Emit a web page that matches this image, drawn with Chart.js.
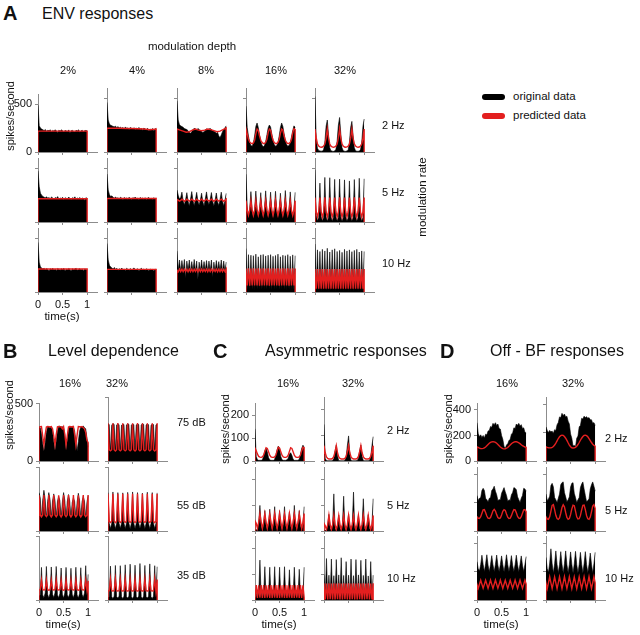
<!DOCTYPE html>
<html><head><meta charset="utf-8">
<script src="https://cdn.jsdelivr.net/npm/chart.js@4"></script>
<style>
body{margin:0;background:#fff;}
#root{position:relative;width:640px;height:635px;overflow:hidden;font-family:"Liberation Sans",Arial,sans-serif;color:#111;}
canvas{position:absolute;}
.t{position:absolute;white-space:nowrap;line-height:1;}
</style></head><body><div id="root"></div>
<script>
// ---------- DATA (values over 0..1 s, evenly spaced samples) ----------
// Panel A, 2 Hz row
const a02_2Hz_o=[490,275,250,240,232,225,235,215,228,222,232,210,226,218,233,220,205,228,216,232,221,210,226,220,214,231,200,222,226,215,210,227,220,232,206,221,226,214,222,226,220];
const a02_2Hz_p=[218,218];
const a04_2Hz_o=[465,300,262,250,245,240,236,242,228,238,225,232,222,230,218,235,220,226,212,230,222,216,228,208,224,218,230,212,220,205,224,215,210,222,200,216,208,220,198,214,222];
const a04_2Hz_p=[222,222,222,220,220,218,215,208,215];
const a08_2Hz_o=[480,300,255,245,238,232,220,215,210,200,185,175,190,210,222,215,208,220,212,200,195,182,190,205,218,210,215,220,212,200,195,188,175,185,150,135,160,190,215,225,245];
const a08_2Hz_p=[215,205,195,185,190,205,215,205,200,205,215,210,200,190,195,210,225];
const a16_2Hz_o=[430,230,150,90,60,55,85,150,240,272,230,160,100,65,50,60,95,160,225,253,235,170,110,70,55,60,90,150,230,272,240,170,110,70,55,60,85,140,200,245,230];
const a16_2Hz_p=[218,170,120,95,82,78,85,110,170,215,200,150,110,90,80,80,90,120,180,215,205,150,110,88,80,80,90,118,175,215,205,150,110,88,80,80,90,120,180,218,210];
const a32_2Hz_o=[520,120,35,15,10,8,10,20,90,240,300,160,40,12,8,6,10,25,100,250,324,170,40,12,8,6,10,22,90,230,287,150,40,12,8,6,10,20,90,240,309];
const a32_2Hz_p=[215,132,76,56,48,45,47,55,74,128,216,130,75,55,48,44,48,56,76,132,218,128,74,55,47,45,48,55,75,130,214,130,76,56,48,45,47,55,74,128,215];
// Panel A, 5 Hz row
const a02_5Hz_o=[480,330,270,250,240,232,228,236,222,230,218,235,224,216,230,222,238,215,226,220,232,212,228,222,218,234,220,210,228,222,236,214,225,218,230,212,226,220,205,228,222];
const a02_5Hz_p=[218,218];
const a04_5Hz_o=[450,300,255,238,245,230,224,234,220,228,216,232,222,212,230,220,226,214,232,220,210,228,222,234,216,224,212,230,220,226,214,228,208,224,230,216,222,210,228,218,225];
const a04_5Hz_p=[220,220];
const a08_5Hz_o=[300,250,215,230,280,200,160,210,275,195,150,215,285,200,155,210,278,195,160,205,270,190,150,215,282,200,165,210,276,195,150,205,272,190,155,210,280,200,150,200,268];
const a08_5Hz_p=[212,205,195,203,214,205,194,203,214,205,195,204,214,205,194,203,214,205,195,203,214,205,194,204,214,205,195,203,214,205,194,203,214,205,195,204,214,205,194,203,214];
const a16_5Hz_o=[448,140,55,120,285,110,45,115,290,115,48,120,275,110,45,118,292,112,46,116,280,108,44,120,288,112,46,118,270,110,45,115,295,112,48,118,282,110,45,115,278];
const a16_5Hz_p=[200,112,64,112,200,110,62,110,202,112,63,111,200,110,62,112,201,111,63,110,200,112,62,111,202,110,63,112,200,111,62,110,201,112,63,111,200,110,62,112,200];
const a32_5Hz_o=[490,60,12,40,365,50,12,40,418,50,10,40,415,48,12,40,400,50,12,42,402,48,10,40,395,50,12,38,385,48,12,40,398,50,10,40,410,48,12,40,405];
const a32_5Hz_p=[230,96,47,96,230,95,46,95,231,96,46,96,230,95,47,95,230,96,46,96,231,95,46,95,230,96,47,96,230,95,46,95,231,96,46,96,230,95,47,95,230];
// Panel A, 10 Hz row
const a02_10Hz_o=[465,280,235,225,215,222,208,220,212,200,218,210,222,205,215,200,220,212,205,218,210,222,200,214,208,220,212,196,218,208,215,222,204,212,218,206,214,200,216,210,205];
const a02_10Hz_p=[215,215];
const a04_10Hz_o=[455,300,250,235,226,215,230,212,222,205,218,210,225,208,216,200,222,212,205,220,208,215,226,206,212,218,200,214,222,208,215,204,218,212,200,216,208,212,196,214,210];
const a04_10Hz_p=[212,212];
const a08_10Hz_o=[385,200,300,190,295,195,305,130,290,200,300,185,285,195,305,190,290,120,280,195,300,190,285,200,295,185,290,195,300,140,280,190,295,200,285,195,300,185,290,190,280];
const a08_10Hz_p=[205,190,214,191,215,190,213,192,215,190,214,191,215,190,213,192,215,190,214,191,215,190,213,192,215,190,214,191,215,190,213,192,215,190,214,191,215,190,213,192,214];
const a16_10Hz_o=[407,25,350,28,345,25,340,22,355,28,330,25,348,26,352,24,338,28,345,25,350,22,335,26,342,28,355,24,330,25,345,26,340,22,350,28,335,25,348,24,340];
const a16_10Hz_p=[220,62,222,60,221,62,222,61,220,62,222,60,221,62,222,61,220,62,222,60,221,62,222,61,220,62,222,60,221,62,222,61,220,62,222,60,221,62,222,61,220];
const a32_10Hz_o=[450,12,395,10,380,12,400,10,385,12,410,10,375,12,395,10,405,12,380,10,390,12,372,10,400,12,385,10,395,12,378,10,390,12,400,10,375,12,385,10,380];
const a32_10Hz_p=[216,31,215,32,216,30,216,31,215,32,216,30,216,31,215,32,216,30,216,31,215,32,216,30,216,31,215,32,216,30,216,31,215,32,216,30,216,31,215,32,216];
// Panel B (level dependence)
const b16_75_o=[300,290,240,150,90,160,250,295,300,290,300,260,170,95,170,260,300,305,295,300,285,230,100,180,270,300,290,305,295,260,170,90,170,260,300,295,305,290,280,200,120];
const b16_75_p=[295,298,300,220,140,230,296,300,298,296,300,280,220,140,230,298,300,297,298,280,300,230,140,220,296,300,298,296,300,230,140,225,300,298,296,300,290,280,250,180,160];
const b32_75_o=[290,285,75,280,292,286,78,282,290,284,75,280,288,285,76,282,291,286,75,280,290,284,78,282,289,285,75,280,292,286,76,282,290,284,75,280,288,285,78,282,290];
const b32_75_p=[295,88,80,88,295,88,78,88,296,88,80,88,295,88,79,88,294,88,80,88,295,88,78,88,296,88,80,88,295,88,79,88,294,88,80,88,295,88,78,88,295];
const b16_55_o=[300,260,100,240,318,250,95,230,300,245,98,235,290,240,100,230,270,238,95,225,300,240,96,230,285,235,100,222,260,230,97,225,295,238,95,228,270,232,98,225,280];
const b16_55_p=[280,125,110,125,280,125,112,125,281,125,110,125,280,125,111,125,279,125,110,125,280,125,112,125,281,125,110,125,280,125,111,125,279,125,110,125,280,125,112,125,280];
const b32_55_o=[300,60,20,60,305,60,18,60,300,60,22,60,298,60,20,60,302,60,18,60,305,60,20,60,300,60,22,60,296,60,20,60,303,60,18,60,300,60,20,60,298];
const b32_55_p=[290,76,66,76,290,76,65,76,291,76,66,76,290,76,67,76,290,76,66,76,291,76,65,76,290,76,66,76,290,76,67,76,290,76,66,76,291,76,65,76,290];
const b16_35_o=[30,40,255,40,18,55,262,45,15,50,258,45,20,55,262,40,18,50,250,45,15,55,255,40,20,50,248,45,18,55,256,40,15,50,252,45,20,55,268,40,200];
const b16_35_p=[78,80,156,80,78,80,156,80,77,80,155,80,78,80,156,80,78,80,156,80,77,80,155,80,78,80,156,80,78,80,156,80,77,80,155,80,78,80,156,80,150];
const b32_35_o=[15,25,265,25,12,30,270,25,15,30,268,25,12,30,275,25,15,30,280,25,12,30,272,25,15,30,285,25,12,30,270,25,15,30,282,25,12,30,268,25,260];
const b32_35_p=[70,72,164,72,70,72,164,72,70,72,163,72,70,72,164,72,70,72,164,72,70,72,163,72,70,72,164,72,70,72,164,72,70,72,163,72,70,72,164,72,160];
// Panel C (asymmetric responses)
const c16_2Hz_o=[140,20,5,3,3,3,5,20,45,56,40,15,5,3,3,3,8,25,50,65,55,20,5,3,3,3,5,12,30,36,25,8,3,3,3,3,8,30,55,69,60];
const c16_2Hz_p=[56,45,30,20,17,16,18,25,42,58,55,40,25,18,16,16,18,26,45,60,56,40,25,18,16,16,18,25,42,58,55,40,25,18,16,16,18,26,45,60,58];
const c32_2Hz_o=[143,10,2,1,1,1,1,2,10,40,62,20,2,1,1,1,1,3,15,60,98,25,2,1,1,1,1,2,10,40,62,18,2,1,1,1,1,3,15,60,95];
const c32_2Hz_p=[60,32,16,10,8,8,8,10,18,36,60,32,16,10,8,8,8,10,18,36,61,32,16,10,8,8,8,10,18,36,60,32,16,10,8,8,8,10,18,36,60];
const c16_5Hz_o=[5,3,10,30,100,20,5,25,80,20,5,25,85,20,5,25,95,20,5,25,80,20,5,25,95,20,5,25,75,20,5,25,100,20,5,25,80,20,5,25,95];
const c16_5Hz_p=[40,30,10,35,68,35,9,35,68,35,10,36,67,35,9,35,68,36,10,35,68,35,9,35,67,35,10,36,68,35,9,35,68,35,10,35,67,36,9,35,68];
const c32_5Hz_o=[3,2,5,20,65,10,3,25,145,10,3,20,62,10,3,25,136,10,3,20,66,10,3,25,152,10,3,20,60,10,3,25,126,10,3,20,64,10,3,25,126];
const c32_5Hz_p=[30,20,5,25,61,25,5,25,61,25,5,25,60,25,5,25,61,25,5,25,61,25,5,25,60,25,5,25,61,25,5,25,61,25,5,25,60,25,5,25,61];
const c16_10Hz_o=[5,15,40,15,156,15,40,15,130,15,38,15,128,15,40,15,130,15,38,15,128,15,40,15,130,15,38,15,118,15,40,15,128,15,38,15,120,15,40,15,128];
const c16_10Hz_p=[8,58,8,57,9,58,8,58,8,57,9,58,8,58,8,57,9,58,8,58,8,57,9,58,8,58,8,57,9,58,8,58,8,57,9,58,8,58,8,57,9];
const c32_10Hz_o=[100,10,162,10,97,10,160,10,95,10,158,10,98,10,165,10,96,10,150,10,97,10,160,10,95,10,158,10,98,10,155,10,96,10,160,10,94,10,150,10,97];
const c32_10Hz_p=[65,2,64,2,65,3,64,2,65,2,64,3,65,2,64,2,65,3,64,2,65,2,64,3,65,2,64,2,65,3,64,2,65,2,64,3,65,2,64,2,65];
// Panel D (off-BF responses)
const d16_2Hz_o=[300,215,190,205,185,200,180,210,205,235,240,270,265,295,285,300,278,290,255,250,200,170,115,100,125,135,160,170,210,220,260,255,290,280,295,275,285,255,260,225,220];
const d16_2Hz_p=[112,106,101,98,97,99,103,110,120,130,139,146,150,151,150,146,139,130,120,110,102,97,95,96,100,106,115,125,135,143,148,151,151,148,143,136,128,120,114,110,108];
const d32_2Hz_o=[240,215,200,215,205,210,195,220,215,255,270,310,305,335,320,330,310,315,280,260,190,160,105,110,100,160,175,240,250,300,295,315,305,312,300,305,290,290,265,270,250];
const d32_2Hz_p=[100,96,93,92,93,96,102,112,126,142,158,170,178,182,180,172,160,145,128,112,100,93,91,92,96,104,116,130,146,160,172,180,182,178,170,158,144,130,118,110,105];
const d16_5Hz_o=[250,215,230,235,285,300,285,230,220,205,230,235,285,295,315,280,255,215,220,220,265,285,305,275,250,210,220,215,255,270,305,300,290,240,220,200,230,250,300,295,280];
const d16_5Hz_p=[100,90,88,100,125,148,150,130,105,90,88,95,118,142,152,140,115,95,88,92,112,138,150,145,120,97,88,90,108,132,150,148,128,102,90,88,100,125,148,150,135];
const d32_5Hz_o=[260,215,225,245,320,335,310,235,220,200,230,260,325,340,345,270,240,205,220,240,310,335,340,265,235,200,220,235,305,330,345,295,250,205,215,225,295,325,345,315,280];
const d32_5Hz_p=[100,85,82,100,140,180,185,150,110,88,82,92,125,165,185,170,130,95,82,88,115,155,182,178,140,100,84,86,108,148,180,182,150,108,86,82,98,135,175,185,160];
const d16_10Hz_o=[270,220,205,250,315,250,200,255,318,245,198,250,312,248,200,252,316,245,200,250,310,248,198,252,318,250,200,248,312,245,200,250,315,248,198,252,310,245,200,250,305];
const d16_10Hz_p=[110,82,111,140,111,83,110,139,111,82,111,140,110,82,111,141,111,83,110,140,111,82,111,139,110,82,111,140,111,83,110,140,111,82,111,141,110,82,111,140,111];
const d32_10Hz_o=[300,220,195,260,360,255,190,255,345,250,192,250,340,252,190,255,345,250,192,250,338,252,190,255,342,250,192,250,335,252,190,255,340,250,192,250,330,252,190,255,335];
const d32_10Hz_p=[120,80,121,163,120,81,120,162,121,80,120,163,120,80,121,164,120,81,120,163,121,80,120,162,120,80,121,163,120,81,120,163,121,80,120,164,120,80,121,163,120];

// tick labels
const timeTicks=[0,0.5,1];
const ticksA=[0,500], ticksB=[0,500], ticksC=[0,100,200], ticksD=[0,200,400];

// ---------- DRAWING ----------
const FONT='"Liberation Sans", Arial, sans-serif';
const root=document.getElementById('root');
const RED='#e31f1f', AXIS='#8c8c8c';

function txt(s,x,y,size,o={}){
  const d=document.createElement('div');
  d.className='t'; d.textContent=s;
  d.style.left=x+'px'; d.style.top=y+'px';
  d.style.fontSize=size+'px';
  if(o.bold) d.style.fontWeight='bold';
  let tr=o.left?'translate(0,-50%)':'translate(-50%,-50%)';
  if(o.rot) tr='translate(-50%,-50%) rotate(-90deg)';
  d.style.transform=tr;
  root.appendChild(d);
}
function bar(x,y,color){
  const d=document.createElement('div');
  d.style.cssText=`position:absolute;left:${x}px;top:${y-3}px;width:23px;height:6px;border-radius:3px;background:${color}`;
  root.appendChild(d);
}
function pts(arr){return arr.map((v,i)=>({x:i/(arr.length-1),y:v}));}

const PW=59, PH=64, L=36, T=3, R=3, B=22;
function plot(ax, base, orig, pred, ymax, yt, showY, showX, fs){
  const c=document.createElement('canvas');
  const w=L+PW+R, h=T+PH+B;
  c.width=w; c.height=h;
  c.style.left=(Math.round(ax)-L)+'px'; c.style.top=(Math.round(base)-PH-T)+'px';
  c.style.width=w+'px'; c.style.height=h+'px';
  root.appendChild(c);
  const predPts=[{x:0,y:0},...pts(pred),{x:1,y:0}];
  new Chart(c,{
    type:'line',
    data:{datasets:[
      {data:predPts,borderColor:RED,borderWidth:1.4,fill:false,pointRadius:0,tension:0,order:0},
      {data:pts(orig),borderColor:'#000',borderWidth:0.6,backgroundColor:'#000',fill:'origin',pointRadius:0,tension:0,order:1}
    ]},
    options:{
      responsive:false,animation:false,devicePixelRatio:1,
      layout:{padding:{top:T,right:R,left:0,bottom:0},autoPadding:false},
      plugins:{legend:{display:false},tooltip:{enabled:false}},
      scales:{
        x:{type:'linear',min:0,max:1.2,
          afterBuildTicks:s=>{s.ticks=timeTicks.map(v=>({value:v}));},
          afterFit:s=>{s.height=B;},
          ticks:{display:showX,autoSkip:false,maxRotation:0,padding:3,color:'#111',font:{size:fs,family:FONT},callback:v=>String(v)},
          grid:{drawOnChartArea:false,drawTicks:true,tickLength:3,color:AXIS},
          border:{display:true,color:AXIS,width:1}},
        y:{type:'linear',min:0,max:ymax,
          afterBuildTicks:s=>{s.ticks=yt.map(v=>({value:v}));},
          afterFit:s=>{s.width=L;},
          ticks:{display:showY,autoSkip:false,padding:3,color:'#111',font:{size:fs,family:FONT},callback:v=>String(v)},
          grid:{drawOnChartArea:false,drawTicks:true,tickLength:3,color:AXIS},
          border:{display:true,color:AXIS,width:1}}
      }
    }
  });
}

// Panel A
const aCols=[38,107,177,246,315], aBase=[152,222,292];
const aData=[
  [[a02_2Hz_o,a02_2Hz_p],[a04_2Hz_o,a04_2Hz_p],[a08_2Hz_o,a08_2Hz_p],[a16_2Hz_o,a16_2Hz_p],[a32_2Hz_o,a32_2Hz_p]],
  [[a02_5Hz_o,a02_5Hz_p],[a04_5Hz_o,a04_5Hz_p],[a08_5Hz_o,a08_5Hz_p],[a16_5Hz_o,a16_5Hz_p],[a32_5Hz_o,a32_5Hz_p]],
  [[a02_10Hz_o,a02_10Hz_p],[a04_10Hz_o,a04_10Hz_p],[a08_10Hz_o,a08_10Hz_p],[a16_10Hz_o,a16_10Hz_p],[a32_10Hz_o,a32_10Hz_p]]
];
aData.forEach((row,r)=>row.forEach((d,c)=>plot(aCols[c],aBase[r],d[0],d[1],600,ticksA,r===0&&c===0,r===2&&c===0,11)));

const bcdBase=[461,531,600];
// Panel B
const bData=[[[b16_75_o,b16_75_p],[b32_75_o,b32_75_p]],[[b16_55_o,b16_55_p],[b32_55_o,b32_55_p]],[[b16_35_o,b16_35_p],[b32_35_o,b32_35_p]]];
bData.forEach((row,r)=>row.forEach((d,c)=>plot([39,108][c],bcdBase[r],d[0],d[1],500,ticksB,r===0&&c===0,r===2&&c===0,11)));
// Panel C
const cData=[[[c16_2Hz_o,c16_2Hz_p],[c32_2Hz_o,c32_2Hz_p]],[[c16_5Hz_o,c16_5Hz_p],[c32_5Hz_o,c32_5Hz_p]],[[c16_10Hz_o,c16_10Hz_p],[c32_10Hz_o,c32_10Hz_p]]];
cData.forEach((row,r)=>row.forEach((d,c)=>plot([255,324][c],bcdBase[r],d[0],d[1],250,ticksC,r===0&&c===0,r===2&&c===0,11)));
// Panel D
const dData=[[[d16_2Hz_o,d16_2Hz_p],[d32_2Hz_o,d32_2Hz_p]],[[d16_5Hz_o,d16_5Hz_p],[d32_5Hz_o,d32_5Hz_p]],[[d16_10Hz_o,d16_10Hz_p],[d32_10Hz_o,d32_10Hz_p]]];
dData.forEach((row,r)=>row.forEach((d,c)=>plot([477,546][c],bcdBase[r],d[0],d[1],450,ticksD,r===0&&c===0,r===2&&c===0,11)));

// ---------- TEXT ----------
txt('A',3,13,20,{bold:true,left:true});
txt('ENV responses',42,14,16,{left:true});
txt('modulation depth',192,47,11.5);
[['2%',68],['4%',137],['8%',206],['16%',276],['32%',345]].forEach(([s,x])=>txt(s,x,70,11));
[['2 Hz',125],['5 Hz',192],['10 Hz',263]].forEach(([s,y])=>txt(s,382,y,11,{left:true}));
txt('modulation rate',423,197,11.5,{rot:true});
bar(482,97,'#000'); txt('original data',513,97,11.5,{left:true});
bar(482,116,RED); txt('predicted data',513,116,11.5,{left:true});
txt('spikes/second',10,116,11,{rot:true});
txt('time(s)',62,317,11.5);

txt('B',3,351,20,{bold:true,left:true});
txt('Level dependence',48,351,16,{left:true});
txt('16%',70,383,11); txt('32%',117,383,11);
[['75 dB',422],['55 dB',505],['35 dB',575]].forEach(([s,y])=>txt(s,177,y,11,{left:true}));
txt('spikes/second',9,415,11,{rot:true});
txt('time(s)',63,625,11.5);

txt('C',213,351,20,{bold:true,left:true});
txt('Asymmetric responses',265,351,16,{left:true});
txt('16%',288,383,11); txt('32%',353,383,11);
[['2 Hz',430],['5 Hz',505],['10 Hz',578]].forEach(([s,y])=>txt(s,387,y,11,{left:true}));
txt('spikes/second',225,429,11,{rot:true});
txt('time(s)',279,625,11.5);

txt('D',440,351,20,{bold:true,left:true});
txt('Off - BF responses',490,351,16,{left:true});
txt('16%',507,383,11); txt('32%',573,383,11);
[['2 Hz',438],['5 Hz',510],['10 Hz',578]].forEach(([s,y])=>txt(s,605,y,11,{left:true}));
txt('spikes/second',448,429,11,{rot:true});
txt('time(s)',501,625,11.5);
</script></body></html>
